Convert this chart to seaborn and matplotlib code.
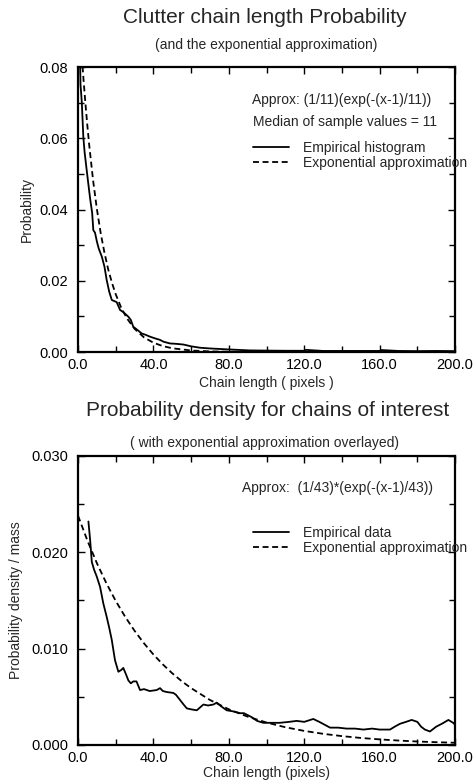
import matplotlib
matplotlib.use("Agg")
import matplotlib.pyplot as plt
from matplotlib.ticker import MultipleLocator, FormatStrFormatter
import seaborn as sns

# --- data ---
# top panel: clutter chain length probability
clutter_x = [1, 1.3, 1.6, 2, 2.8, 3.5, 4.6, 5.5, 6.5, 7.5, 8.1, 9, 10, 11, 12.6,
             14, 15.2, 16.5, 17.9, 20.5, 22.3, 24, 26.7, 28, 29.3, 31, 33.8, 36, 38.2, 41,
             43.5, 45.3, 48.8, 52, 55.9, 60, 64.7, 70, 78.9, 85, 91, 100, 110, 120, 121,
             130, 140, 150, 160, 161, 170, 180, 190, 200]
clutter_y = [0.085, 0.075, 0.073, 0.070, 0.0604, 0.056, 0.051, 0.047, 0.0427, 0.039,
             0.0342, 0.0335, 0.031, 0.029, 0.0268, 0.024, 0.0202, 0.017, 0.0146, 0.0140,
             0.0118, 0.0112, 0.0099, 0.0090, 0.0071, 0.0064, 0.0052, 0.0048, 0.0043, 0.0038,
             0.0034, 0.0029, 0.0024, 0.0023, 0.0021, 0.0016, 0.0012, 0.0010, 0.00075, 0.0006,
             0.00045, 0.0004, 0.00035, 0.00035, 0.0006, 0.0003, 0.0003, 0.0003, 0.0003, 0.00055,
             0.0003, 0.00025, 0.0003, 0.00025]
clutter_exp_x = [1, 2, 3, 4, 5, 6, 8, 10, 12, 14, 16, 18, 20, 23, 26, 30, 35, 40, 45, 50,
                 60, 70, 80, 100, 130, 160, 200]
clutter_exp_y = [0.0909, 0.0830, 0.0758, 0.0692, 0.0632, 0.0577, 0.0481, 0.0401, 0.0334,
                 0.0279, 0.0232, 0.0194, 0.0162, 0.0123, 0.0094, 0.0065, 0.0041, 0.0026,
                 0.00166, 0.00105, 0.00043, 0.00017, 0.00007, 0.00001, 0.0, 0.0, 0.0]

# bottom panel: chains of interest
interest_x = [5.5, 6.4, 7.3, 8.5, 9.9, 11.7, 13.4, 15.2, 16.5, 17.9, 19.6, 21.4, 23, 24, 25.5,
              26.7, 28, 29.3, 31, 32.9, 35, 38, 41.7, 43.5, 45, 47, 50.6, 52, 54, 56,
              57.7, 60, 63, 66.5, 69, 71.8, 73.6, 76, 78.9, 82, 86, 88, 92, 95, 98.3,
              103, 107, 112, 116, 120, 124.8, 128, 133.7, 138, 142.5, 147, 151.4, 156, 160, 165.5,
              168, 170.8, 174, 177, 180, 182, 184, 186.7, 190, 193, 196.5, 199, 200]
interest_y = [0.0232, 0.0213, 0.019, 0.0182, 0.0175, 0.0164, 0.0147, 0.0133, 0.0122, 0.0109,
              0.0088, 0.0076, 0.0078, 0.0080, 0.0073, 0.0067, 0.0064, 0.0066, 0.0066, 0.0057,
              0.0058, 0.0056, 0.0057, 0.0059, 0.0056, 0.0055, 0.0054, 0.0052, 0.0047, 0.0042,
              0.0038, 0.0037, 0.0036, 0.0042, 0.0041, 0.0042, 0.0044, 0.0040, 0.0036, 0.0035,
              0.0033, 0.0033, 0.0029, 0.0025, 0.0023, 0.0023, 0.0023, 0.0024, 0.0025, 0.0024,
              0.0027, 0.0024, 0.0018, 0.0018, 0.0017, 0.0017, 0.0016, 0.0017, 0.0016, 0.0016,
              0.0019, 0.0022, 0.0024, 0.0026, 0.0024, 0.0019, 0.0016, 0.0014, 0.0019, 0.0022,
              0.0026, 0.0023, 0.0021]
interest_exp_x = [0, 5, 10, 15, 20, 25, 30, 35, 40, 45, 50, 55, 60, 70, 80, 90, 100, 110,
                  120, 130, 140, 150, 160, 170, 180, 190, 200]
interest_exp_y = [0.0238, 0.0212, 0.01887, 0.0168, 0.01495, 0.01331, 0.01185, 0.01055,
                  0.00939, 0.00836, 0.00744, 0.00662, 0.0059, 0.00467, 0.0037, 0.00294,
                  0.00233, 0.00184, 0.00146, 0.00116, 0.00092, 0.00073, 0.00058, 0.00046,
                  0.00036, 0.00029, 0.00023]

sns.set_style("ticks")
plt.rcParams["font.family"] = ["Liberation Sans", "DejaVu Sans"]

fig = plt.figure(figsize=(4.73, 7.80), dpi=100)
ax1 = fig.add_axes([0.165, 0.5487, 0.797, 0.3654])
ax2 = fig.add_axes([0.165, 0.0449, 0.797, 0.3705])

dash = (0, (3.3, 2.0))


def style_axes(ax, ymax, ymajor, yfmt):
    ax.set_xlim(0, 200)
    ax.set_ylim(0, ymax)
    ax.xaxis.set_major_locator(MultipleLocator(40))
    ax.xaxis.set_minor_locator(MultipleLocator(20))
    ax.yaxis.set_major_locator(MultipleLocator(ymajor))
    ax.yaxis.set_minor_locator(MultipleLocator(ymajor / 2))
    ax.xaxis.set_major_formatter(FormatStrFormatter("%.1f"))
    ax.yaxis.set_major_formatter(FormatStrFormatter(yfmt))
    ax.tick_params(which="both", direction="in", top=True, right=True,
                   width=1.0, colors="black")
    ax.tick_params(axis="x", which="major", length=5, pad=4, labelsize=10.5)
    ax.tick_params(axis="y", which="major", length=5, pad=7, labelsize=10.5)
    ax.tick_params(which="minor", length=4)
    for s in ax.spines.values():
        s.set_linewidth(1.6)
        s.set_color("black")


# top panel
sns.lineplot(x=clutter_x, y=clutter_y, ax=ax1, color="black", lw=1.3,
             label="Empirical histogram")
sns.lineplot(x=clutter_exp_x, y=clutter_exp_y, ax=ax1, color="black", lw=1.3,
             linestyle=dash, label="Exponential approximation")
style_axes(ax1, 0.08, 0.02, "%.2f")
ax1.set_xlabel("Chain length ( pixels )", fontsize=10, labelpad=3)
ax1.set_ylabel("Probability", fontsize=10, labelpad=4)
ax1.text(0.462, 0.884, "Approx: (1/11)(exp(-(x-1)/11))", transform=ax1.transAxes,
         fontsize=10, va="center")
ax1.text(0.464, 0.808, "Median of sample values = 11", transform=ax1.transAxes,
         fontsize=10, va="center")
ax1.legend(loc="upper left", bbox_to_anchor=(0.463, 0.742), frameon=False,
           fontsize=10, handlelength=2.6, handletextpad=1.0, labelspacing=0.1,
           borderaxespad=0, borderpad=0)

# bottom panel
sns.lineplot(x=interest_x, y=interest_y, ax=ax2, color="black", lw=1.3,
             label="Empirical data")
sns.lineplot(x=interest_exp_x, y=interest_exp_y, ax=ax2, color="black", lw=1.3,
             linestyle=dash, label="Exponential approximation")
style_axes(ax2, 0.030, 0.010, "%.3f")
ax2.set_xlabel("Chain length (pixels)", fontsize=10, labelpad=1)
ax2.set_ylabel("Probability density / mass", fontsize=10, labelpad=6)
ax2.text(0.435, 0.889, "Approx:  (1/43)*(exp(-(x-1)/43))", transform=ax2.transAxes,
         fontsize=10, va="center")
ax2.legend(loc="upper left", bbox_to_anchor=(0.463, 0.758), frameon=False,
           fontsize=10, handlelength=2.6, handletextpad=1.0, labelspacing=0.05,
           borderaxespad=0, borderpad=0)

# titles
fig.text(0.56, 0.978, "Clutter chain length Probability", ha="center", va="center",
         fontsize=15)
fig.text(0.562, 0.942, "(and the exponential approximation)", ha="center", va="center",
         fontsize=10)
fig.text(0.565, 0.474, "Probability density for chains of interest", ha="center",
         va="center", fontsize=15)
fig.text(0.56, 0.432, "( with exponential approximation overlayed)", ha="center",
         va="center", fontsize=10)

fig.savefig("out.png", dpi=100)
